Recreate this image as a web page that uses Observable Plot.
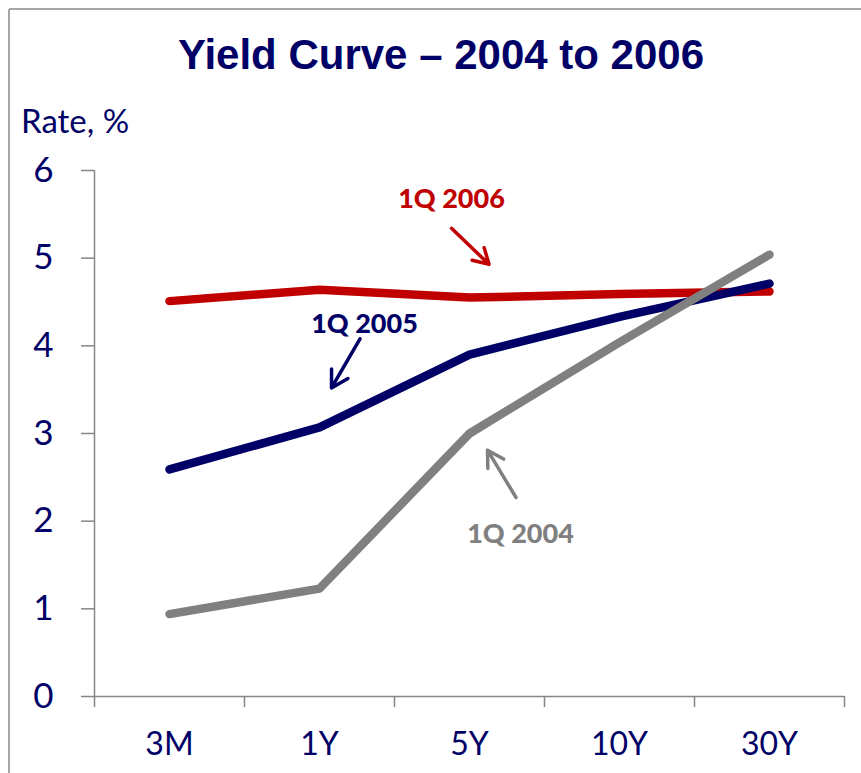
<!DOCTYPE html>
<html><head><meta charset="utf-8">
<script src="https://cdn.jsdelivr.net/npm/d3@7"></script>
<script src="https://cdn.jsdelivr.net/npm/@observablehq/plot@0.6"></script>
<style>
body{margin:0;background:#fff;overflow:hidden}
#chart{position:relative;width:861px;height:773px}
</style>
</head><body><div id="chart"></div>
<script>
// ---- data ----
const tenors = ["3M", "1Y", "5Y", "10Y", "30Y"];
const yield2006 = [4.51, 4.64, 4.55, 4.59, 4.62];
const yield2005 = [2.59, 3.07, 3.90, 4.33, 4.71];
const yield2004 = [0.94, 1.23, 3.00, 4.04, 5.04];
const seriesNames = ["1Q 2006", "1Q 2005", "1Q 2004"];
const seriesValues = [yield2006, yield2005, yield2004];
const seriesColors = ["#c00000", "#000066", "#808080"];
const yTicks = [0, 1, 2, 3, 4, 5, 6];
const titleText = "Yield Curve \u2013 2004 to 2006";
const yAxisTitle = "Rate, %";
// annotation anchors (in tenor-index / rate units)
const labelX = [1.88, 1.30, 2.34];
const labelY = [5.67, 4.25, 1.85];
const arrowX1 = [1.88, 1.27, 2.31];
const arrowY1 = [5.34, 4.08, 2.27];
const arrowX2 = [2.13, 1.08, 2.12];
const arrowY2 = [4.93, 3.52, 2.81];

// ---- tables ----
const rows = seriesNames.flatMap((s, k) =>
  tenors.map((t, i) => ({series: s, i, value: seriesValues[k][i]})));
const notes = seriesNames.map((s, k) => ({
  series: s, x: labelX[k], y: labelY[k],
  x1: arrowX1[k], y1: arrowY1[k], x2: arrowX2[k], y2: arrowY2[k]
}));
const boundaries = d3.range(tenors.length + 1).map(i => i - 0.5);
const centers = d3.range(tenors.length);

const navy = "#000066";
const axisGray = "#868686";

const plot = Plot.plot({
  width: 861,
  height: 773,
  marginLeft: 94,
  marginRight: 17,
  marginTop: 170,
  marginBottom: 77,
  style: {fontFamily: "Lato, sans-serif", background: "white"},
  x: {type: "linear", domain: [-0.5, tenors.length - 0.5]},
  y: {domain: [0, 6]},
  color: {domain: seriesNames, range: seriesColors},
  marks: [
    Plot.axisY({ticks: yTicks, tickFormat: d3.format("d"), tickSize: 13, tickPadding: 28,
      stroke: axisGray, strokeWidth: 1.5, fill: navy, fontSize: 35, label: null}),
    Plot.axisX({ticks: boundaries, tickSize: 11, tickFormat: () => "", stroke: axisGray, strokeWidth: 1.5, label: null}),
    Plot.axisX({ticks: centers, tickSize: 0, tickPadding: 36, tickFormat: i => tenors[i],
      fill: navy, fontSize: 32, label: null}),
    Plot.ruleY([0], {stroke: axisGray, strokeWidth: 1.5}),
    Plot.ruleX([-0.5], {stroke: axisGray, strokeWidth: 1.5}),
    Plot.line(rows, {x: "i", y: "value", z: "series", stroke: "series",
      strokeWidth: 8.5, strokeLinecap: "round", strokeLinejoin: "round"}),
    Plot.arrow(notes, {x1: "x1", y1: "y1", x2: "x2", y2: "y2", stroke: "series",
      strokeWidth: 3.5, headLength: 15}),
    Plot.text(notes, {x: "x", y: "y", text: "series", fill: "series",
      fontSize: 27, fontWeight: 900, fontFamily: "Lato, sans-serif"})
  ]
});

const svg = d3.select(plot);
// outer frame (left and top edges visible)
svg.append("line").attr("x1", 9).attr("x2", 9).attr("y1", 9).attr("y2", 773)
  .attr("stroke", "#a6a6a6").attr("stroke-width", 2);
svg.append("line").attr("x1", 9).attr("x2", 861).attr("y1", 9).attr("y2", 9)
  .attr("stroke", "#a6a6a6").attr("stroke-width", 2);
svg.append("text").text(titleText)
  .attr("x", 441).attr("y", 69).attr("text-anchor", "middle")
  .attr("font-family", "'Liberation Sans', Arial, sans-serif")
  .attr("font-weight", "bold").attr("font-size", 42).attr("fill", navy);
svg.append("text").text(yAxisTitle)
  .attr("x", 21).attr("y", 133).attr("text-anchor", "start")
  .attr("font-family", "Lato, sans-serif")
  .attr("font-size", 33).attr("fill", navy);

document.getElementById("chart").appendChild(plot);
</script>
</body></html>
